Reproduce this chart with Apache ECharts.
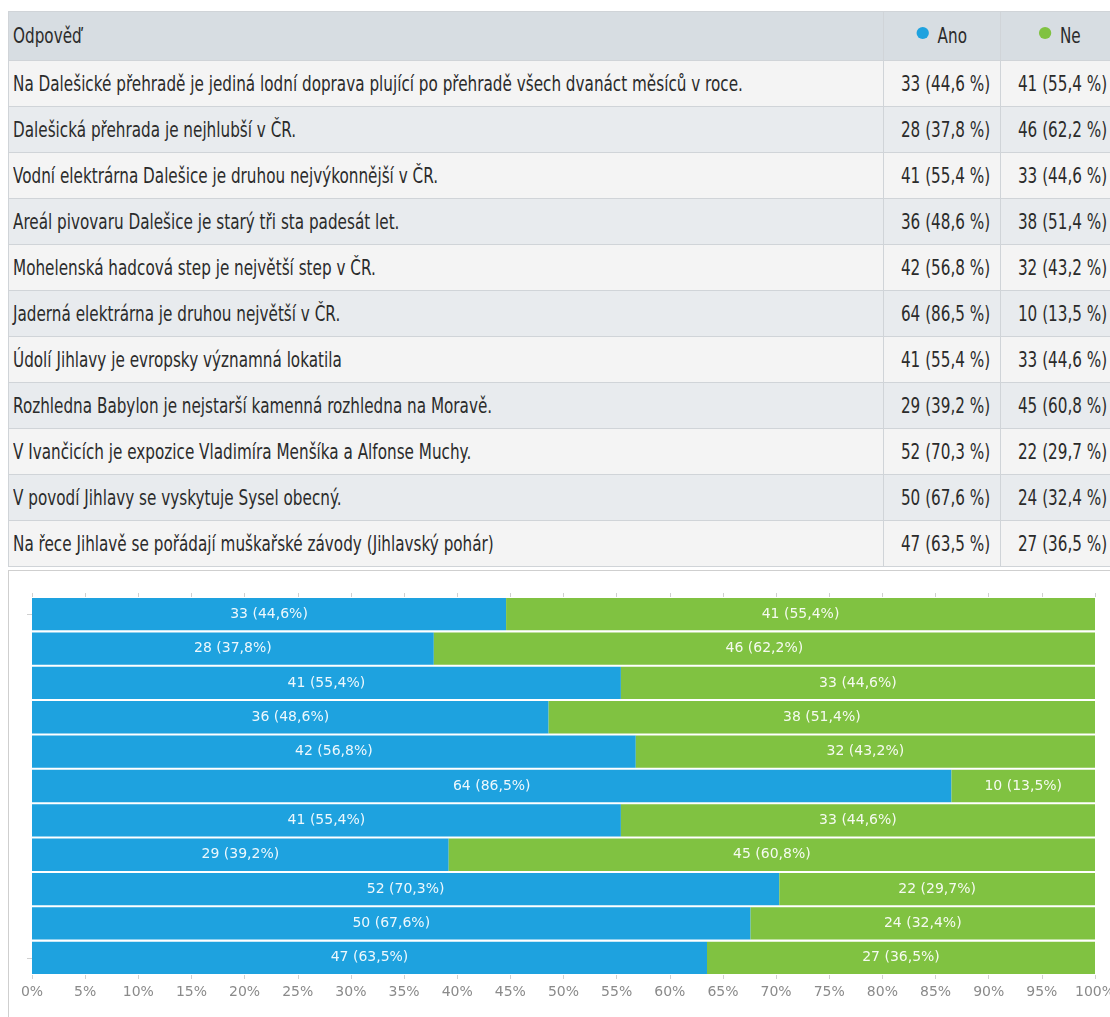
<!DOCTYPE html>
<html>
<head>
<meta charset="utf-8">
<script src="https://cdn.jsdelivr.net/npm/echarts@6/dist/echarts.min.js"></script>
<style>
  html, body { margin: 0; padding: 0; background: #fff; }
  #wrap { position: relative; width: 1110px; height: 1017px; overflow: hidden; }
  #tbl {
    position: absolute; left: 8px; top: 11px; width: 1110px;
    border-collapse: collapse; table-layout: fixed;
    font-family: "DejaVu Sans", sans-serif;
    font-size: 21px; color: #2b2b2b;
  }
  #tbl td, #tbl th { border: 1px solid #d0d4d8; padding: 0 0 0 4px; white-space: nowrap; overflow: hidden; }
  #tbl th { height: 48px; background: #d7dde2; font-weight: normal; text-align: left; }
  #tbl th.n, #tbl td.n { text-align: center; padding: 0; }
  #tbl td { height: 45px; }
  #tbl tr.odd td { background: #f4f4f4; }
  #tbl tr.even td { background: #e8ebee; }
  /* úzké písmo - zúžení textu */
  .t { display: inline-block; transform: scaleX(0.725); transform-origin: left center; }
  .n .t { transform-origin: center center; }
  .dot { display: inline-block; width: 17px; height: 12px; border-radius: 50%; margin-right: 12px; vertical-align: 4px; }
  #chart {
    position: absolute; left: 8px; top: 570px; width: 1102px; height: 447px;
    border-left: 1px solid #cfcfcf; border-top: 1px solid #cfcfcf; box-sizing: border-box;
  }
</style>
</head>
<body>
<div id="wrap">
  <table id="tbl">
    <colgroup><col style="width:875px"><col style="width:117px"><col style="width:118px"></colgroup>
    <thead></thead>
    <tbody></tbody>
  </table>
  <div id="chart"></div>
</div>
<script>
// otázky
var categories = [
  'Na Dalešické přehradě je jediná lodní doprava plující po přehradě všech dvanáct měsíců v roce.',
  'Dalešická přehrada je nejhlubší v ČR.',
  'Vodní elektrárna Dalešice je druhou nejvýkonnější v ČR.',
  'Areál pivovaru Dalešice je starý tři sta padesát let.',
  'Mohelenská hadcová step je největší step v ČR.',
  'Jaderná elektrárna je druhou největší v ČR.',
  'Údolí Jihlavy je evropsky významná lokatila',
  'Rozhledna Babylon je nejstarší kamenná rozhledna na Moravě.',
  'V Ivančicích je expozice Vladimíra Menšíka a Alfonse Muchy.',
  'V povodí Jihlavy se vyskytuje Sysel obecný.',
  'Na řece Jihlavě se pořádají muškařské závody (Jihlavský pohár)'
];
var seriesNames = ['Ano', 'Ne'];
var colors = ['#1ea2df', '#80c241'];

var anoCount = [33, 28, 41, 36, 42, 64, 41, 29, 52, 50, 47];
var neCount = [41, 46, 33, 38, 32, 10, 33, 45, 22, 24, 27];
var anoPct = [44.6, 37.8, 55.4, 48.6, 56.8, 86.5, 55.4, 39.2, 70.3, 67.6, 63.5];
var nePct = [55.4, 62.2, 44.6, 51.4, 43.2, 13.5, 44.6, 60.8, 29.7, 32.4, 36.5];

var xTicks = [0, 5, 10, 15, 20, 25, 30, 35, 40, 45, 50, 55, 60, 65, 70, 75, 80, 85, 90, 95, 100];

function fmt(v) {
  return v.toFixed(1).replace('.', ',');
}

function t(s) {
  return '<span class="t">' + s + '</span>';
}

// 1、tabulka nahoře
var thead = document.querySelector('#tbl thead');
var tbody = document.querySelector('#tbl tbody');
thead.innerHTML = '<tr><th>' + t('Odpověď') + '</th>' +
  seriesNames.map(function(n, i) {
    return '<th class="n">' + t('<span class="dot" style="background:' + colors[i] + '"></span>' + n) + '</th>';
  }).join('') + '</tr>';
var rows = '';
categories.forEach(function(c, i) {
  rows += '<tr class="' + (i % 2 === 0 ? 'odd' : 'even') + '"><td>' + t(c) + '</td>' +
    '<td class="n">' + t(anoCount[i] + ' (' + fmt(anoPct[i]) + ' %)') + '</td>' +
    '<td class="n">' + t(neCount[i] + ' (' + fmt(nePct[i]) + ' %)') + '</td></tr>';
});
tbody.innerHTML = rows;

// 2、graf
var chart = echarts.init(document.getElementById('chart'));

function barLabel(counts, pcts) {
  return {
    show: true,
    position: 'inside',
    color: 'rgba(255,255,255,0.92)',
    fontFamily: 'DejaVu Sans',
    fontSize: 14,
    formatter: function(p) {
      return counts[p.dataIndex] + ' (' + fmt(pcts[p.dataIndex]) + '%)';
    }
  };
}

var option = {
  animation: false,
  grid: { left: 23, right: 15, top: 26, bottom: 42, outerBoundsMode: 'none' },
  xAxis: [
    {
      type: 'value', min: xTicks[0], max: xTicks[xTicks.length - 1], interval: 5,
      axisLine: { show: false },
      axisTick: { show: true, length: 4, lineStyle: { color: '#d0d0d0' } },
      splitLine: { show: false },
      axisLabel: {
        margin: 10, color: '#8a8a8a', fontFamily: 'DejaVu Sans', fontSize: 14,
        formatter: '{value}%'
      }
    },
    {
      type: 'value', position: 'top', min: xTicks[0], max: xTicks[xTicks.length - 1], interval: 5,
      axisLine: { show: false },
      axisTick: { show: true, length: 4, lineStyle: { color: '#d0d0d0' } },
      splitLine: { show: false },
      axisLabel: { show: false }
    }
  ],
  yAxis: {
    type: 'category', inverse: true, data: categories,
    axisLine: { show: false },
    axisLabel: { show: false },
    axisTick: {
      show: true, alignWithLabel: true, length: 5,
      interval: function(i) { return i === 0 || i === categories.length - 1; },
      lineStyle: { color: '#d0d0d0' }
    }
  },
  series: [
    {
      name: seriesNames[0], type: 'bar', stack: 'total', barCategoryGap: '6%',
      itemStyle: { color: colors[0] },
      label: barLabel(anoCount, anoPct),
      data: anoPct
    },
    {
      name: seriesNames[1], type: 'bar', stack: 'total', barCategoryGap: '6%',
      itemStyle: { color: colors[1] },
      label: barLabel(neCount, nePct),
      data: nePct
    }
  ]
};

chart.setOption(option);
</script>
</body>
</html>
